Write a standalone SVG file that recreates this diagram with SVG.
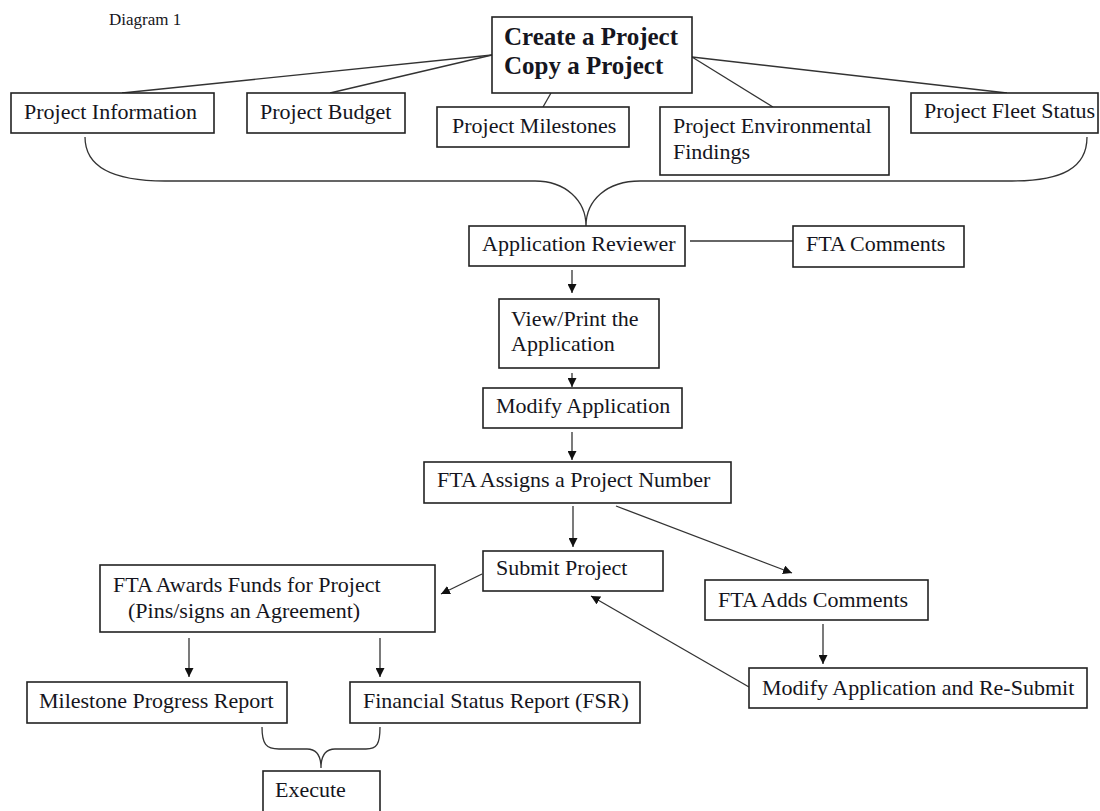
<svg xmlns="http://www.w3.org/2000/svg" width="1100" height="811" viewBox="0 0 1100 811">
<defs>
<style>
.bx{fill:#fff;stroke:#222;stroke-width:1.6}
.t{font-family:"Liberation Serif","Times New Roman",serif;font-size:22px;fill:#151520}
.tb{font-family:"Liberation Serif","Times New Roman",serif;font-size:25px;font-weight:bold;fill:#151520}
.ttl{font-family:"Liberation Serif","Times New Roman",serif;font-size:17px;fill:#151520}
.ln{fill:none;stroke:#333;stroke-width:1.3}
.ar{fill:none;stroke:#333;stroke-width:1.3;marker-end:url(#ah)}
</style>
<marker id="ah" viewBox="0 0 10 10" refX="10" refY="5" markerWidth="9" markerHeight="9" markerUnits="userSpaceOnUse" orient="auto">
<path d="M0,0 L10,5 L0,10 z" fill="#111"/>
</marker>
</defs>
<rect width="1100" height="811" fill="#fff"/>
<text class="ttl" x="109" y="25">Diagram 1</text>

<g id="connectors">
<line class="ln" x1="492" y1="55" x2="122" y2="93"/>
<line class="ln" x1="492" y1="55" x2="330" y2="93"/>
<line class="ln" x1="551" y1="93" x2="543" y2="107"/>
<line class="ln" x1="692" y1="57" x2="773" y2="107"/>
<line class="ln" x1="692" y1="57" x2="1007" y2="93"/>
<path class="ln" d="M85,137 C85,168 115,181 165,181 L535,181 C565,181 586,200 586,226 C586,200 607,181 640,181 L1012,181 C1062,181 1087,168 1087,137"/>
<line class="ln" x1="690" y1="241" x2="793" y2="241"/>
<line class="ar" x1="572" y1="270" x2="572" y2="293"/>
<line class="ar" x1="572" y1="373" x2="572" y2="387"/>
<line class="ar" x1="572" y1="432" x2="572" y2="460"/>
<line class="ar" x1="573" y1="506" x2="573" y2="547"/>
<line class="ar" x1="616" y1="506" x2="792" y2="573"/>
<line class="ar" x1="482" y1="574" x2="441" y2="594"/>
<line class="ar" x1="823" y1="624" x2="823" y2="664"/>
<line class="ar" x1="749" y1="687" x2="591" y2="596"/>
<line class="ar" x1="189" y1="638" x2="189" y2="677"/>
<line class="ar" x1="380" y1="638" x2="380" y2="677"/>
<path class="ln" d="M262,727 C262,744 266,749 279,749 L307,749 C316,749 321,755 321,768 C321,755 326,749 335,749 L366,749 C377,749 380,744 380,727"/>
</g>

<g id="create"><rect class="bx" x="492" y="17" width="200" height="76"/>
<text class="tb" x="504" y="45">Create a Project</text>
<text class="tb" x="504" y="74">Copy a Project</text></g>
<g id="info"><rect class="bx" x="11" y="93" width="203" height="40"/>
<text class="t" x="24" y="119">Project Information</text></g>
<g id="budget"><rect class="bx" x="247" y="93" width="158" height="40"/>
<text class="t" x="260" y="119">Project Budget</text></g>
<g id="milestones"><rect class="bx" x="437" y="107" width="192" height="40"/>
<text class="t" x="452" y="133">Project Milestones</text></g>
<g id="env"><rect class="bx" x="660" y="107" width="229" height="68"/>
<text class="t" x="673" y="133">Project Environmental</text>
<text class="t" x="673" y="159">Findings</text></g>
<g id="fleet"><rect class="bx" x="911" y="93" width="187" height="40"/>
<text class="t" x="924" y="118">Project Fleet Status</text></g>
<g id="reviewer"><rect class="bx" x="469" y="226" width="216" height="40"/>
<text class="t" x="482" y="251">Application Reviewer</text></g>
<g id="ftacomments"><rect class="bx" x="793" y="226" width="171" height="41"/>
<text class="t" x="806" y="251">FTA Comments</text></g>
<g id="viewprint"><rect class="bx" x="499" y="299" width="160" height="69"/>
<text class="t" x="511" y="326">View/Print the</text>
<text class="t" x="511" y="351">Application</text></g>
<g id="modify"><rect class="bx" x="483" y="388" width="199" height="40"/>
<text class="t" x="496" y="413">Modify Application</text></g>
<g id="assigns"><rect class="bx" x="424" y="462" width="307" height="41"/>
<text class="t" x="437" y="487">FTA Assigns a Project Number</text></g>
<g id="submit"><rect class="bx" x="483" y="551" width="180" height="40"/>
<text class="t" x="496" y="575">Submit Project</text></g>
<g id="adds"><rect class="bx" x="705" y="580" width="223" height="40"/>
<text class="t" x="718" y="607">FTA Adds Comments</text></g>
<g id="awards"><rect class="bx" x="100" y="565" width="335" height="67"/>
<text class="t" x="113" y="592">FTA Awards Funds for Project</text>
<text class="t" x="128" y="618">(Pins/signs an Agreement)</text></g>
<g id="mpr"><rect class="bx" x="27" y="682" width="260" height="41"/>
<text class="t" x="39" y="708">Milestone Progress Report</text></g>
<g id="fsr"><rect class="bx" x="350" y="682" width="290" height="41"/>
<text class="t" x="363" y="708">Financial Status Report (FSR)</text></g>
<g id="resubmit"><rect class="bx" x="749" y="668" width="338" height="40"/>
<text class="t" x="762" y="695">Modify Application and Re-Submit</text></g>
<g id="execute"><rect class="bx" x="263" y="771" width="117" height="44"/>
<text class="t" x="275" y="797">Execute</text></g>
</svg>
